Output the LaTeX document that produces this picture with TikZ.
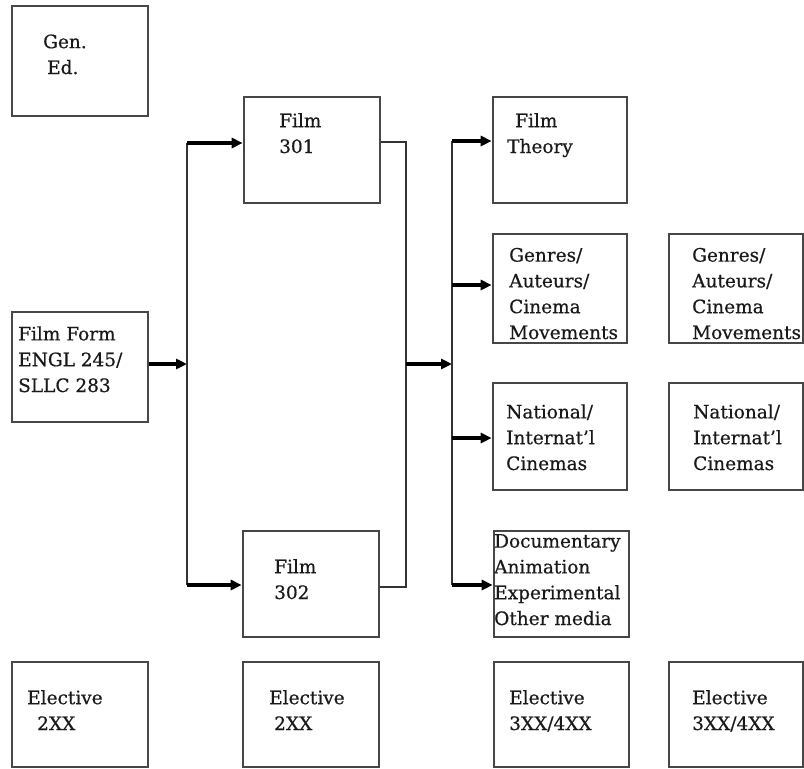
\documentclass[tikz,border=0pt]{standalone}
\usepackage{fontspec}
\setmainfont[FakeBold=0.5,AutoFakeBold=0.5]{DejaVu Serif}
\usetikzlibrary{arrows.meta,calc}
\begin{document}
\begin{tikzpicture}[x=1pt,y=-1pt,
  box/.style={draw=black!72,line width=2.6pt},
  txt/.style={anchor=base west,inner sep=0pt,align=left,font=\fontsize{18.5}{25.8}\selectfont\bfseries,text=black!90},
  link/.style={draw=black!80,line width=2.3pt},
  arr/.style={draw=black,line width=3.2pt,-{Triangle[length=11pt,width=10pt]}}]
\useasboundingbox (0,0) rectangle (804,769);
% boxes
\node[box,inner sep=0,minimum width=136pt,minimum height=110pt] (gen) at (80,61) {};
\node[txt] (gentx) at (43,74) {Gen.\\\hspace*{4pt}Ed.};
\node[box,inner sep=0,minimum width=136pt,minimum height=106pt] (f301) at (312,150) {};
\node[txt] (f301tx) at (279,153) {Film\\301};
\node[box,inner sep=0,minimum width=136pt,minimum height=110pt] (ff) at (80,367) {};
\node[txt] (fftx) at (18,392) {Film Form\\ENGL 245/\\SLLC 283};
\node[box,inner sep=0,minimum width=136pt,minimum height=106pt] (f302) at (311,584) {};
\node[txt] (f302tx) at (274,599) {Film\\302};
\node[box,inner sep=0,minimum width=134pt,minimum height=106pt] (ft) at (560,150) {};
\node[txt] (fttx) at (507,153) {\hspace*{8pt}Film\\Theory};
\node[box,inner sep=0,minimum width=134pt,minimum height=109pt] (g1) at (560,288.5) {};
\node[txt] (g1tx) at (509,339) {Genres/\\Auteurs/\\Cinema\\Movements};
\node[box,inner sep=0,minimum width=134pt,minimum height=109pt] (g2) at (736,288.5) {};
\node[txt] (g2tx) at (692,339) {Genres/\\Auteurs/\\Cinema\\Movements};
\node[box,inner sep=0,minimum width=134pt,minimum height=107pt] (n1) at (560,436.5) {};
\node[txt] (n1tx) at (506,470) {National/\\Internat'l\\Cinemas};
\node[box,inner sep=0,minimum width=134pt,minimum height=107pt] (n2) at (736,436.5) {};
\node[txt] (n2tx) at (693,470) {National/\\Internat'l\\Cinemas};
\node[box,inner sep=0,minimum width=135pt,minimum height=106pt] (doc) at (561.5,584) {};
\node[txt] (doctx) at (494,625) {Documentary\\Animation\\Experimental\\Other media};
\node[box,inner sep=0,minimum width=136pt,minimum height=105pt] (e1) at (80,714.5) {};
\node[txt] (e1tx) at (27,730) {Elective\\\hspace*{10pt}2XX};
\node[box,inner sep=0,minimum width=136pt,minimum height=105pt] (e2) at (311,714.5) {};
\node[txt] (e2tx) at (269,730) {Elective\\\hspace*{5pt}2XX};
\node[box,inner sep=0,minimum width=135pt,minimum height=105pt] (e3) at (561.5,714.5) {};
\node[txt] (e3tx) at (509,730) {Elective\\3XX/4XX};
\node[box,inner sep=0,minimum width=134pt,minimum height=105pt] (e4) at (736,714.5) {};
\node[txt] (e4tx) at (692,730) {Elective\\3XX/4XX};
% connectors
\coordinate (t1a) at (187,143);
\coordinate (t1m) at (187,364);
\coordinate (t1b) at (187,585);
\coordinate (m1) at (406,142);
\coordinate (m2) at (406,587);
\coordinate (mm) at (406,364);
\coordinate (t2a) at (452,141);
\coordinate (t2g) at (452,285);
\coordinate (t2m) at (452,364);
\coordinate (t2n) at (452,438);
\coordinate (t2b) at (452,585);
\draw[link] (t1a) -- (t1b);
\draw[arr] (ff.east |- t1m) -- (t1m);
\draw[arr] (t1a) -- (t1a -| f301.west);
\draw[arr] (t1b) -- (t1b -| f302.west);
\draw[link] (m1 -| f301.east) -- (m1) -- (m2) -- (m2 -| f302.east);
\draw[arr] (mm) -- (t2m);
\draw[link] (t2a) -- (t2b);
\draw[arr] (t2a) -- (t2a -| ft.west);
\draw[arr] (t2g) -- (t2g -| g1.west);
\draw[arr] (t2n) -- (t2n -| n1.west);
\draw[arr] (t2b) -- (t2b -| doc.west);
\end{tikzpicture}
\end{document}
